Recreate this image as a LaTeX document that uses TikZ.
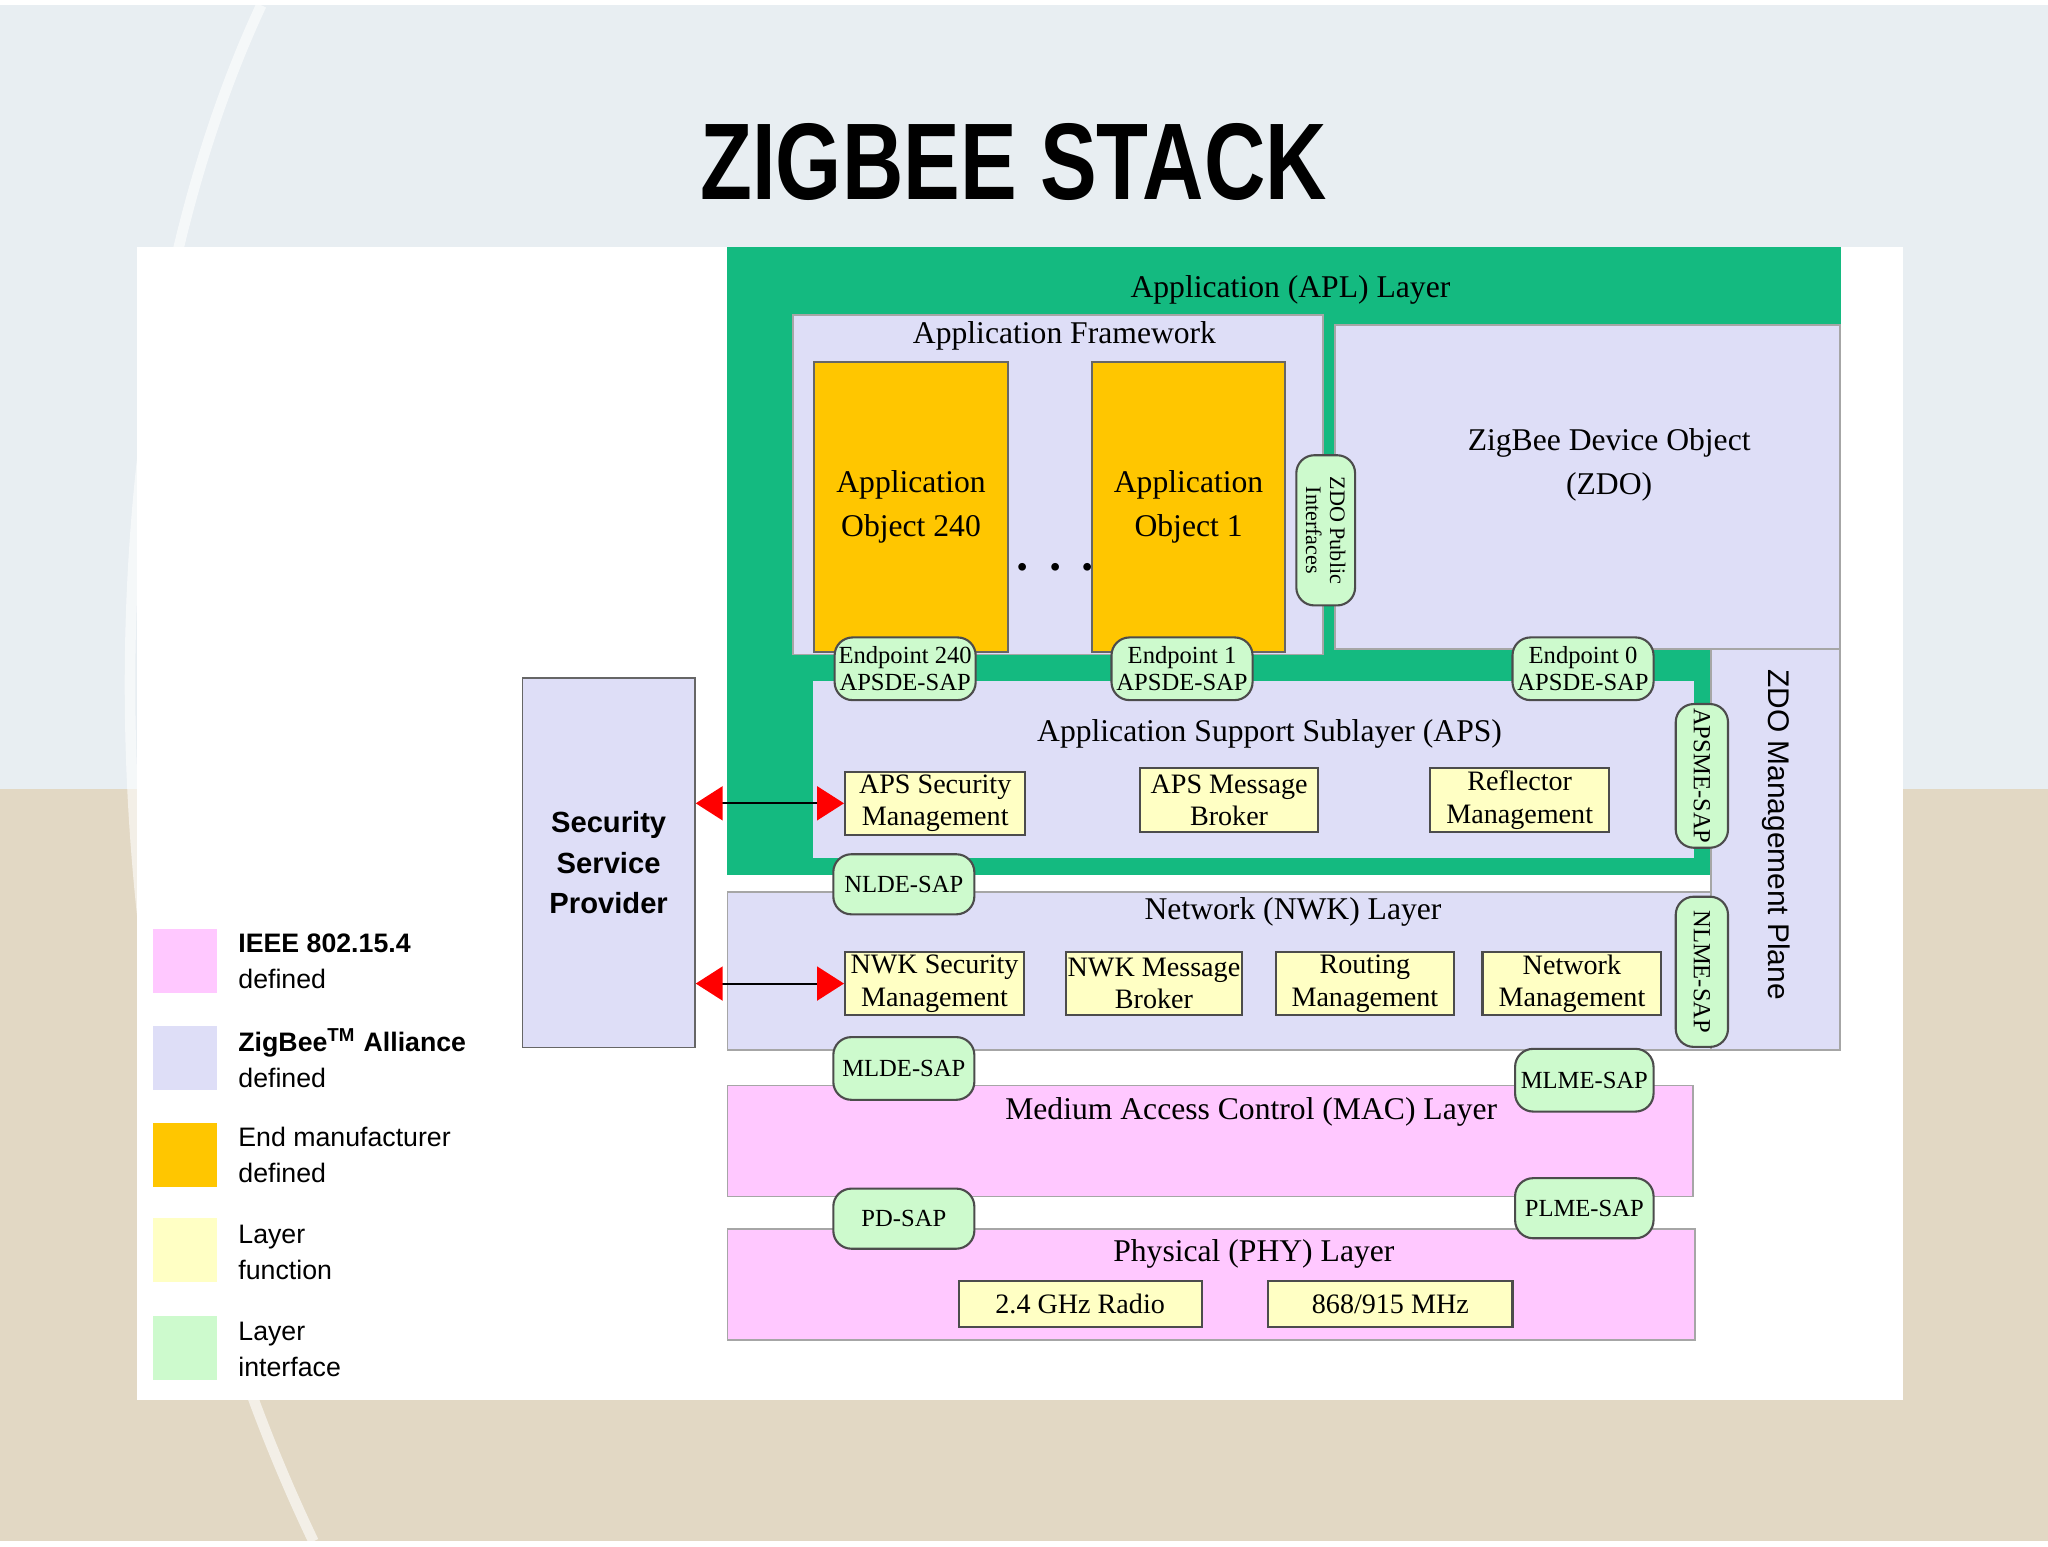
\documentclass[tikz,border=0pt]{standalone}
\usepackage{fontspec}
\setmainfont{Liberation Serif}
\newfontfamily\sans{Liberation Sans}
\usetikzlibrary{arrows.meta}
\definecolor{bgtop}{RGB}{232,238,242}
\definecolor{bgbot}{RGB}{226,216,196}
\definecolor{aplg}{RGB}{20,186,128}
\definecolor{lav}{RGB}{222,222,247}
\definecolor{org}{RGB}{255,198,0}
\definecolor{ylw}{RGB}{255,255,196}
\definecolor{pnk}{RGB}{255,200,255}
\definecolor{sapg}{RGB}{205,250,205}
\newcommand\U{0.013061cm}
% \bx{style}{name}{x1}{y1}{x2}{y2}{text}
\newcommand\bx[7]{\node[#1, minimum width={(#5-#3)*\U}, minimum height={(#6-#4)*\U}] (#2) at ({(#3+#5)/2},{(#4+#6)/2}) {#7};}
\tikzset{
  lay/.style={draw=gray!70, line width=0.5pt, inner sep=0pt, anchor=center},
  fn/.style={draw=black!70, line width=0.6pt, fill=ylw, inner sep=0pt, align=center, font=\fontsize{8}{9.2}\selectfont},
  sap/.style={draw=black!70, line width=0.6pt, fill=sapg, rounded corners=0.18cm, inner sep=0pt, align=center, font=\fontsize{7}{7.8}\selectfont},
  lbl/.style={font=\fontsize{9}{11}\selectfont, align=center, inner sep=0pt},
  leg/.style={font=\sans\fontsize{7.6}{10.3}\selectfont, align=left, anchor=west, inner sep=0pt},
  sw/.style={inner sep=0pt, minimum width={49*\U}, minimum height={49*\U}},
  rarr/.style={{Triangle[color=red,length=0.27cm,width=0.34cm]}-{Triangle[color=red,length=0.27cm,width=0.34cm]}, line width=0.6pt}
}
\begin{document}
\begin{tikzpicture}[x=\U,y=-\U]
\fill[bgtop] (0,0) rectangle (1568,1176);
\fill[bgbot] (0,600) rectangle (1568,1176);
\draw[white, line width=3pt, opacity=0.6] (200,0) .. controls (60,300) and (60,800) .. (240,1176);
\node[font=\sans\bfseries\fontsize{31}{31}\selectfont, xscale=0.78, inner sep=0pt] (title) at (776,120) {ZIGBEE STACK};
\fill[white] (105,185) rectangle (1457,1068);
% APL
\bx{lay,fill=aplg,draw=aplg}{apl}{557}{186}{1409}{665}{}
\node[lbl] at (988,218) {Application (APL) Layer};
\bx{lay,fill=lav}{af}{607}{237}{1013}{497}{}
\node[lbl] at (815,253) {Application Framework};
\bx{lay,fill=org,draw=black!60,align=center,font=\fontsize{9}{12.5}\selectfont}{ao240}{623}{273}{772}{495}{Application\\ Object 240}
\bx{lay,fill=org,draw=black!60,align=center,font=\fontsize{9}{12.5}\selectfont}{ao1}{836}{273}{984}{495}{Application\\ Object 1}
\node[font=\bfseries\fontsize{20}{20}\selectfont] (dots) at (808,432) {$\cdots$};
\bx{lay,fill=lav}{zdo}{1022}{245}{1409}{493}{}
\node[lbl, font=\fontsize{9}{12.5}\selectfont] (zdot) at (1232,352) {ZigBee Device Object\\(ZDO)};
\node[sap, minimum width={115*\U}, minimum height={45*\U}, rotate=-90, font=\fontsize{6.3}{6.8}\selectfont] (zpi) at (1015,402) {ZDO Public\\Interfaces};
% ZDO mgmt
\bx{lay,fill=lav}{zmp}{1310}{493}{1409}{800}{}
\node[lbl, rotate=-90, font=\sans\fontsize{8.5}{10}\selectfont] at (1360,635) {ZDO Management Plane};
% APS
\bx{lay,fill=lav,draw=lav}{aps}{623}{518}{1296}{652}{}
\node[lbl] at (972,558) {Application Support Sublayer (APS)};
\bx{fn}{apssec}{647}{587}{785}{635}{APS Security\\Management}
\bx{fn}{apsmb}{873}{584}{1009}{633}{APS Message\\Broker}
\bx{fn}{refl}{1095}{584}{1232}{633}{Reflector\\Management}
\node[sap, minimum width={108*\U}, minimum height={48*\U}] (ep240) at (693,508) {Endpoint 240\\APSDE-SAP};
\node[sap, minimum width={108*\U}, minimum height={48*\U}] (ep1) at (905,508) {Endpoint 1\\APSDE-SAP};
\node[sap, minimum width={108*\U}, minimum height={48*\U}] (ep0) at (1212,508) {Endpoint 0\\APSDE-SAP};
% NWK
\bx{lay,fill=lav}{nwk}{557}{679}{1310}{800}{}
\node[lbl] at (990,694) {Network (NWK) Layer};
\bx{fn}{nwksec}{647}{725}{784}{773}{NWK Security\\Management}
\bx{fn}{nwkmb}{816}{725}{951}{773}{NWK Message\\Broker}
\bx{fn}{rout}{977}{725}{1113}{773}{Routing\\Management}
\bx{fn}{netm}{1135}{725}{1272}{773}{Network\\Management}
\node[sap, minimum width={108*\U}, minimum height={46*\U}] (nlde) at (692,673) {NLDE-SAP};
\node[sap, minimum width={110*\U}, minimum height={40*\U}, rotate=-90] (apsme) at (1303,590) {APSME-SAP};
\node[sap, minimum width={115*\U}, minimum height={40*\U}, rotate=-90] (nlme) at (1303,740) {NLME-SAP};
% SSP
\bx{lay,fill=lav,draw=black!60,align=center,font=\sans\bfseries\fontsize{8.3}{11.5}\selectfont}{ssp}{400}{515}{532}{798}{Security\\Service\\Provider}
\draw[rarr] (ssp.east |- apssec.west) -- (apssec.west);
\draw[rarr] (ssp.east |- nwksec.west) -- (nwksec.west);
% MAC
\bx{lay,fill=pnk}{mac}{557}{827}{1296}{912}{}
\node[lbl] at (958,847) {Medium Access Control (MAC) Layer};
\node[sap, minimum width={108*\U}, minimum height={48*\U}] (mlde) at (692,814) {MLDE-SAP};
\node[sap, minimum width={106*\U}, minimum height={48*\U}] (mlme) at (1213,823) {MLME-SAP};
% PHY
\bx{lay,fill=pnk}{phy}{557}{937}{1298}{1022}{}
\node[lbl] at (960,956) {Physical (PHY) Layer};
\bx{fn}{r24}{734}{977}{920}{1012}{2.4 GHz Radio}
\bx{fn}{r868}{971}{977}{1158}{1012}{868/915 MHz}
\node[sap, minimum width={108*\U}, minimum height={46*\U}] (pd) at (692,929) {PD-SAP};
\node[sap, minimum width={106*\U}, minimum height={46*\U}] (plme) at (1213,921) {PLME-SAP};
% legend
\node[sw,fill=pnk] (l1) at (142,732) {};
\node[sw,fill=lav] (l2) at (142,806) {};
\node[sw,fill=org] (l3) at (142,880) {};
\node[sw,fill=ylw] (l4) at (142,953) {};
\node[sw,fill=sapg] (l5) at (142,1028) {};
\node[leg] at (182,732) {\textbf{IEEE 802.15.4}\\defined};
\node[leg] at (182,806) {\textbf{ZigBee\textsuperscript{TM} Alliance}\\defined};
\node[leg] at (182,880) {End manufacturer\\defined};
\node[leg] at (182,955) {Layer\\function};
\node[leg] at (182,1029) {Layer\\interface};
\end{tikzpicture}
\end{document}
